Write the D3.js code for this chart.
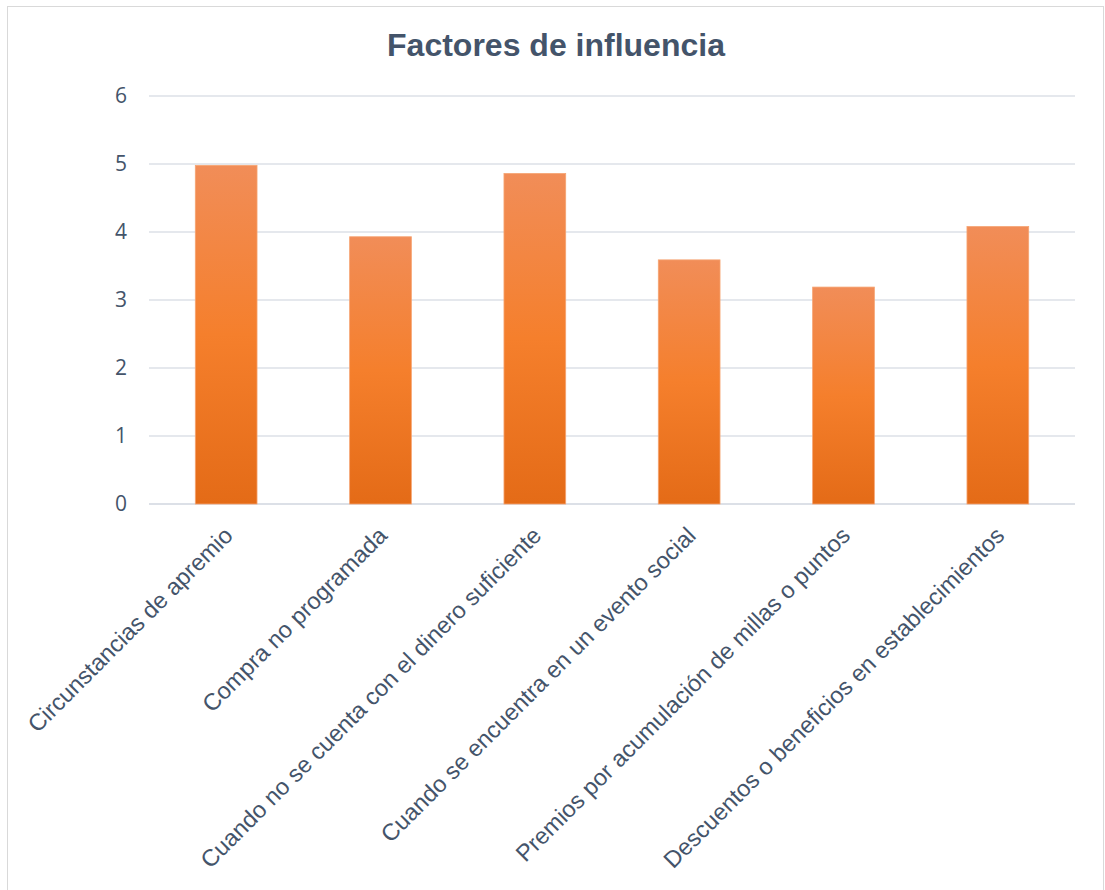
<!DOCTYPE html>
<html>
<head>
<meta charset="utf-8">
<script src="https://cdn.jsdelivr.net/npm/d3@7/dist/d3.min.js"></script>
<style>
  html, body { margin: 0; padding: 0; background: #fff; }
  svg { display: block; }
</style>
</head>
<body>
<div id="chart"></div>
<script>
const categories = [
  "Circunstancias de apremio",
  "Compra no programada",
  "Cuando no se cuenta con el dinero suficiente",
  "Cuando se encuentra en un evento social",
  "Premios por acumulación de millas o puntos",
  "Descuentos o beneficios en establecimientos"
];
const values = [4.98, 3.93, 4.86, 3.59, 3.19, 4.08];
const yTicks = [0, 1, 2, 3, 4, 5, 6];
const chartTitle = "Factores de influencia";

const widthValue = 1105;
const heightValue = 890;
const textColor = "#44546A";

const svg = d3.select("#chart")
  .append("svg")
  .attr("width", widthValue)
  .attr("height", heightValue);

// gradient for the bars (lighter on top, darker at the base)
const grad = svg.append("defs")
  .append("linearGradient")
  .attr("id", "barGrad")
  .attr("x1", 0).attr("y1", 0)
  .attr("x2", 0).attr("y2", 1);
grad.append("stop").attr("offset", "0%").attr("stop-color", "#F18D58");
grad.append("stop").attr("offset", "50%").attr("stop-color", "#F57F2C");
grad.append("stop").attr("offset", "100%").attr("stop-color", "#E46B17");

// outer frame
svg.append("rect")
  .attr("x", 7.5).attr("y", 6.5)
  .attr("width", 1096).attr("height", 900)
  .attr("fill", "#fff")
  .attr("stroke", "#D9D9D9")
  .attr("stroke-width", 1);

const xScale = d3.scaleBand()
  .domain(categories)
  .range([149, 1075])
  .paddingInner(0.6)
  .paddingOuter(0.3);

const yScale = d3.scaleLinear()
  .domain([0, 6])
  .range([504, 96]);

// gridlines
svg.append("g")
  .attr("class", "grid")
  .selectAll("line")
  .data(yTicks)
  .enter()
  .append("line")
    .attr("x1", 149)
    .attr("x2", 1075)
    .attr("y1", d => yScale(d))
    .attr("y2", d => yScale(d))
    .attr("stroke", "#DCE0E7")
    .attr("stroke-width", d => d === 0 ? 2 : 1.6);

// y axis labels
const yAxis = svg.append("g")
  .attr("transform", "translate(127,0)")
  .call(d3.axisLeft(yScale).tickValues(yTicks).tickSize(0).tickPadding(0).tickFormat(d3.format("d")));
yAxis.select(".domain").remove();
yAxis.selectAll("text")
  .attr("fill", textColor)
  .style("font-family", "'Open Sans', 'Noto Sans', sans-serif")
  .style("font-size", "21px");

// bars
svg.append("g")
  .selectAll("rect")
  .data(values)
  .enter()
  .append("rect")
    .attr("x", (d, i) => xScale(categories[i]))
    .attr("y", d => yScale(d))
    .attr("width", xScale.bandwidth())
    .attr("height", d => yScale(0) - yScale(d))
    .attr("fill", "url(#barGrad)")
    .attr("stroke", "#F6A472")
    .attr("stroke-width", 0.8);

// category labels, rotated
svg.append("g")
  .selectAll("text")
  .data(categories)
  .enter()
  .append("text")
    .attr("transform", d => `translate(${xScale(d) + xScale.bandwidth() / 2 + 8}, 537) rotate(-45)`)
    .attr("text-anchor", "end")
    .attr("fill", textColor)
    .style("font-family", "'Liberation Sans', Arial, sans-serif")
    .style("font-size", "23.5px")
    .text(d => d);

// title
svg.append("text")
  .attr("x", 556)
  .attr("y", 56)
  .attr("text-anchor", "middle")
  .attr("fill", textColor)
  .style("font-family", "'Liberation Sans', Arial, sans-serif")
  .style("font-weight", "bold")
  .style("font-size", "32px")
  .text(chartTitle);
</script>
</body>
</html>
